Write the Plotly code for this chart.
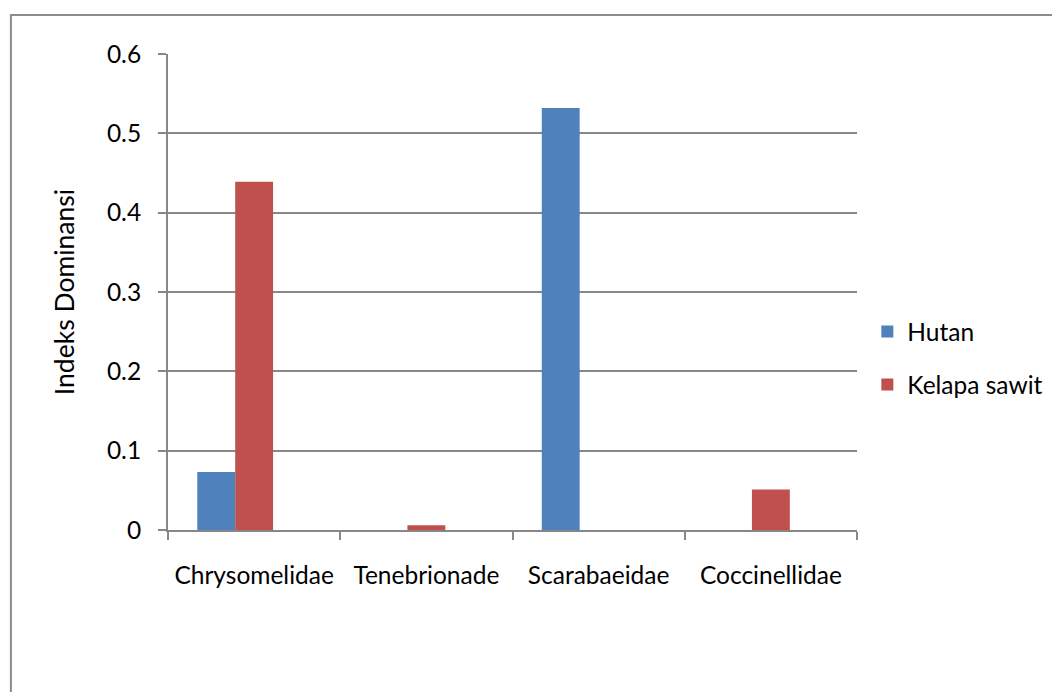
import plotly.graph_objects as go

categories = ["Chrysomelidae", "Tenebrionade", "Scarabaeidae", "Coccinellidae"]
hutan = [0.073, 0, 0.532, 0]
kelapa_sawit = [0.439, 0.006, 0, 0.051]
y_ticks = [0, 0.1, 0.2, 0.3, 0.4, 0.5, 0.6]
y_tick_labels = ["0", "0.1", "0.2", "0.3", "0.4", "0.5", "0.6"]

FONT = "Lato, Carlito, Calibri, sans-serif"
GRID = "#878787"
FS = 24.5

fig = go.Figure()
fig.add_trace(go.Bar(x=categories, y=hutan, name="Hutan",
                     marker=dict(color="#4F81BD", line=dict(width=0)),
                     width=0.22, offset=-0.33, legendgroup="a"))
fig.add_trace(go.Bar(x=categories, y=kelapa_sawit, name="Kelapa sawit",
                     marker=dict(color="#C0504D", line=dict(width=0)),
                     width=0.22, offset=-0.11, legendgroup="b"))

# page body has an 8px margin, so the figure is sized/offset to compensate
fig.update_layout(
    width=1052, height=684,
    margin=dict(l=160, r=194, t=46, b=162, pad=0),
    paper_bgcolor="white", plot_bgcolor="white",
    barmode="overlay",
    font=dict(family=FONT, size=FS, color="#000000"),
    showlegend=True,
    legend=dict(x=1.015, y=0.361, xanchor="left", yanchor="middle",
                traceorder="grouped", tracegroupgap=18,
                font=dict(family=FONT, size=FS, color="#000000"),
                bgcolor="rgba(0,0,0,0)"),
    xaxis=dict(
        type="category",
        showline=True, linecolor=GRID, linewidth=2,
        ticks="outside", tickson="boundaries", ticklen=8, tickwidth=2, tickcolor=GRID,
        showgrid=False, zeroline=False,
        ticklabelstandoff=23,
        tickfont=dict(family=FONT, size=FS, color="#000000"),
    ),
    yaxis=dict(
        range=[0, 0.6],
        tickvals=y_ticks, ticktext=y_tick_labels,
        showline=True, linecolor=GRID, linewidth=2,
        ticks="outside", ticklen=8, tickwidth=2, tickcolor=GRID,
        showgrid=True, gridcolor=GRID, gridwidth=2,
        zeroline=False,
        ticklabelstandoff=12,
        tickfont=dict(family=FONT, size=FS, color="#000000"),
        title=dict(text="Indeks Dominansi", standoff=25,
                   font=dict(family=FONT, size=26.5, color="#000000")),
    ),
    shapes=[dict(type="rect", xref="paper", yref="paper",
                 x0=-0.228, x1=1.6, y0=-0.6, y1=1.082,
                 line=dict(color="#8C8C8C", width=2), fillcolor="rgba(0,0,0,0)",
                 layer="below")],
)

fig.write_html("out.html")
